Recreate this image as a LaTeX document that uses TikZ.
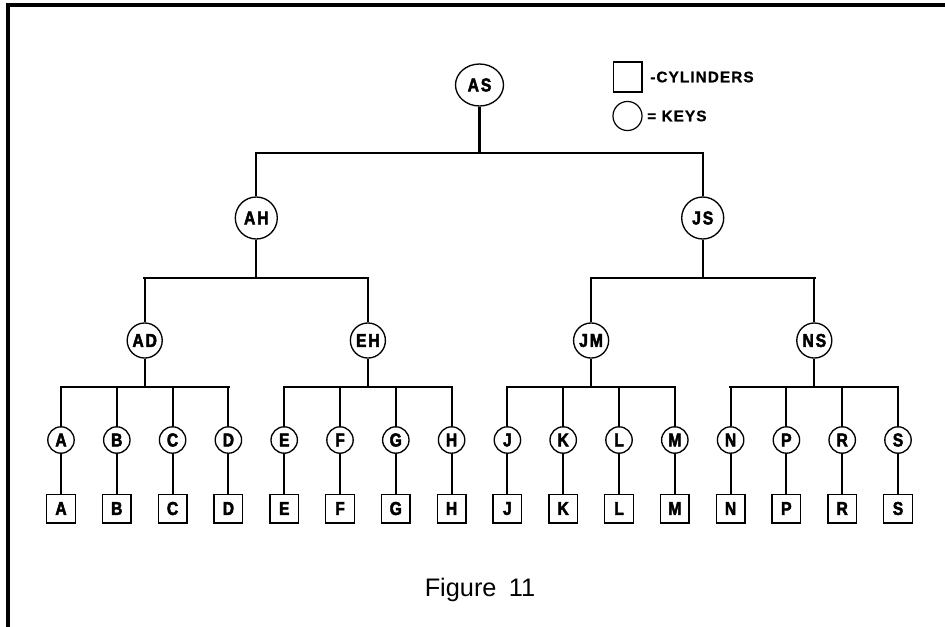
\documentclass[tikz,border=0pt]{standalone}
\usepackage{fontspec}
\setmainfont{Liberation Sans}
\newfontfamily\keyfont[LetterSpace=10,FakeStretch=0.84,FakeBold=2.5]{Liberation Sans Bold}
\newfontfamily\legfont[LetterSpace=7,FakeBold=0.8]{Liberation Sans Bold}
\usetikzlibrary{shapes.geometric}
\begin{document}
\begin{tikzpicture}[x=0.75pt,y=-0.75pt,
  keyfnt/.style={font=\keyfont\fontsize{14}{16}\selectfont},
  topkey/.style={ellipse,draw,line width=1pt,inner sep=0pt,minimum width=36pt,minimum height=31.5pt,keyfnt},
  midkey/.style={circle,draw,line width=1pt,inner sep=0pt,minimum size=31.5pt,keyfnt},
  lowkey/.style={circle,draw,line width=1pt,inner sep=0pt,minimum size=26.3pt,keyfnt},
  leafkey/.style={circle,draw,line width=1pt,inner sep=0pt,minimum size=19.8pt,keyfnt},
  cyl/.style={rectangle,draw,line width=1pt,inner sep=0pt,minimum size=21.5pt,keyfnt},
  vline/.style={line width=1.6pt},
  hbar/.style={line width=2.1pt,line cap=rect},
  legtxt/.style={anchor=west,inner sep=0pt,font=\legfont\fontsize{11.5}{13}\selectfont}]
\useasboundingbox (0,0) rectangle (945,626);
% frame
\draw[line width=3pt,line join=miter] (8,628) -- (8,5) -- (947,5);
% legend
\node[cyl,minimum width=21.5pt,minimum height=22.5pt] (legsq) at (627.5,77) {};
\node[legtxt] (legsqt) at (650,77) {-CYLINDERS};
\node[circle,draw,line width=0.9pt,inner sep=0pt,minimum size=21.8pt] (legci) at (627.5,116) {};
\node[legtxt] (legcit) at (647,116) {= KEYS};
% upper keys
\node[topkey] (AS) at (479.5,85) {AS};
\node[midkey] (AH) at (256.3,218) {AH};
\node[midkey] (JS) at (702.7,218) {JS};
\node[lowkey] (AD) at (144.7,340.5) {AD};
\node[lowkey] (EH) at (367.9,340.5) {EH};
\node[lowkey] (JM) at (591.1,340.5) {JM};
\node[lowkey] (NS) at (814.3,340.5) {NS};
% leaves
\foreach \l [count=\i from 0] in {A,B,C,D,E,F,G,H,J,K,L,M,N,P,R,S} {
  \node[leafkey] (k-\l) at ({61+55.8*\i},440) {\l};
  \node[cyl] (c-\l) at ({61+55.8*\i},508.5) {\l};
  \draw[vline] (k-\l) -- (c-\l);
}
% bars
\coordinate (b-AS) at (479.5,153);
\coordinate (b-AH) at (256.3,278);
\coordinate (b-JS) at (702.7,278);
\draw[vline] (AS) -- (b-AS);
\draw[hbar] (AH.north |- b-AS) -- (JS.north |- b-AS);
\draw[vline] (AH.north |- b-AS) -- (AH);
\draw[vline] (JS.north |- b-AS) -- (JS);
\draw[vline] (AH) -- (b-AH);
\draw[hbar] (AD.north |- b-AH) -- (EH.north |- b-AH);
\draw[vline] (AD.north |- b-AH) -- (AD);
\draw[vline] (EH.north |- b-AH) -- (EH);
\draw[vline] (JS) -- (b-JS);
\draw[hbar] (JM.north |- b-JS) -- (NS.north |- b-JS);
\draw[vline] (JM.north |- b-JS) -- (JM);
\draw[vline] (NS.north |- b-JS) -- (NS);
\foreach \p/\f/\t/\cs in {AD/A/D/{A,B,C,D},EH/E/H/{E,F,G,H},JM/J/M/{J,K,L,M},NS/N/S/{N,P,R,S}} {
  \coordinate (b-\p) at (\p.south |- 0,387);
  \draw[vline] (\p) -- (b-\p);
  \draw[hbar] (k-\f.north |- b-\p) -- (k-\t.north |- b-\p);
  \foreach \c in \cs {
    \draw[vline] (k-\c.north |- b-\p) -- (k-\c);
  }
}
% caption
\node[anchor=base,inner sep=0pt,font=\fontsize{19}{22}\selectfont] (cap) at (480,596) {Figure\hspace{4pt} 11};
\end{tikzpicture}
\end{document}
